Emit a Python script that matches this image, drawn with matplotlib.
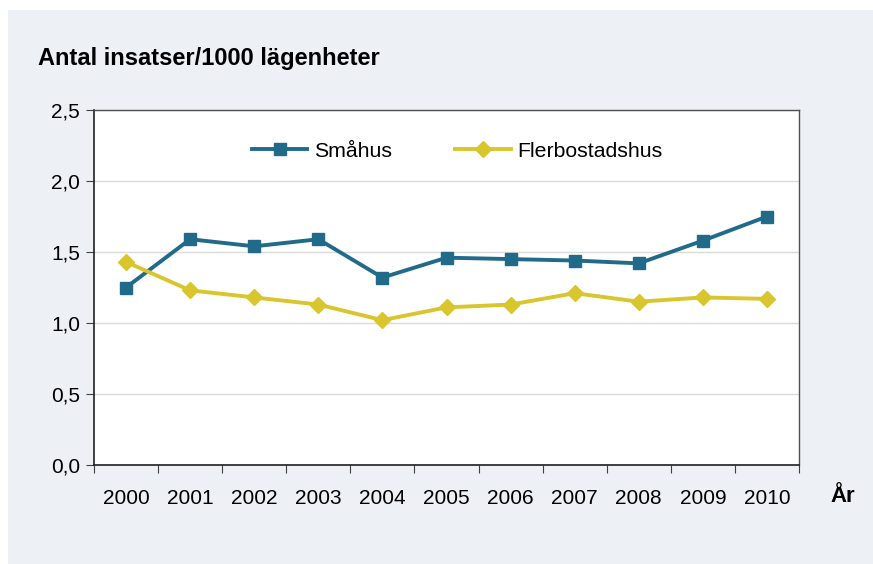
import matplotlib.pyplot as plt
import matplotlib.patches as mpatches

years = ['2000', '2001', '2002', '2003', '2004', '2005',
         '2006', '2007', '2008', '2009', '2010']
smahus = [1.25, 1.59, 1.54, 1.59, 1.32, 1.46, 1.45, 1.44, 1.42, 1.58, 1.75]
flerbostadshus = [1.43, 1.23, 1.18, 1.13, 1.02, 1.11, 1.13, 1.21, 1.15, 1.18, 1.17]
yticks = [0.0, 0.5, 1.0, 1.5, 2.0, 2.5]

BLUE = '#216A8A'
YELLOW = '#D9C62E'
PANEL = '#EDF0F5'

plt.rcParams['font.family'] = ['Liberation Sans', 'DejaVu Sans']

fig = plt.figure(figsize=(8.73, 5.64), dpi=100)
fig.patch.set_facecolor('white')
# light panel behind everything
fig.patches.append(mpatches.Rectangle((8 / 873, 0), 1, 1 - 10 / 564,
                                      transform=fig.transFigure,
                                      fc=PANEL, ec='none', zorder=-10))

ax = fig.add_axes([94 / 873, 1 - 465 / 564, 705 / 873, 355 / 564])
ax.set_facecolor('white')

x = list(range(len(years)))
ax.plot(x, smahus, color=BLUE, lw=2.8, marker='s', ms=9,
        label='Småhus', zorder=3)
ax.plot(x, flerbostadshus, color=YELLOW, lw=2.8, marker='D', ms=8,
        label='Flerbostadshus', zorder=3)

ax.set_xlim(-0.5, len(years) - 0.5)
ax.set_ylim(0, 2.5)
ax.set_yticks(yticks)
ax.set_yticklabels([('%.1f' % v).replace('.', ',') for v in yticks])
ax.yaxis.grid(True, color='#DADADA', lw=1)
ax.set_axisbelow(True)

# category ticks at the boundaries, labels centred
ax.set_xticks([i - 0.5 for i in range(len(years) + 1)])
ax.set_xticklabels([])
ax.set_xticks(x, minor=True)
ax.set_xticklabels(years, minor=True)
ax.tick_params(axis='x', which='minor', length=0, pad=17, labelsize=15)
ax.tick_params(axis='x', which='major', length=6, direction='out',
               color='#404040')
ax.tick_params(axis='y', length=6, direction='out', labelsize=15,
               pad=4, color='#404040')

for side in ['left', 'bottom']:
    ax.spines[side].set_color('#202020')
    ax.spines[side].set_linewidth(1.2)
for side in ['top', 'right']:
    ax.spines[side].set_color('#505050')
    ax.spines[side].set_linewidth(1.0)

ax.legend(loc='upper center', bbox_to_anchor=(0.515, 0.965), ncol=2,
          frameon=False, fontsize=15.3, handlelength=2.6,
          columnspacing=3.0, handletextpad=0.3)

fig.text(38 / 873, 1 - 65 / 564, 'Antal insatser/1000 lägenheter',
         fontsize=17, fontweight='bold', ha='left', va='baseline')
fig.text(830 / 873, 1 - 502 / 564, 'År', fontsize=16,
         fontweight='bold', ha='left', va='baseline')

fig.savefig('out.png', dpi=100, facecolor=fig.get_facecolor())
